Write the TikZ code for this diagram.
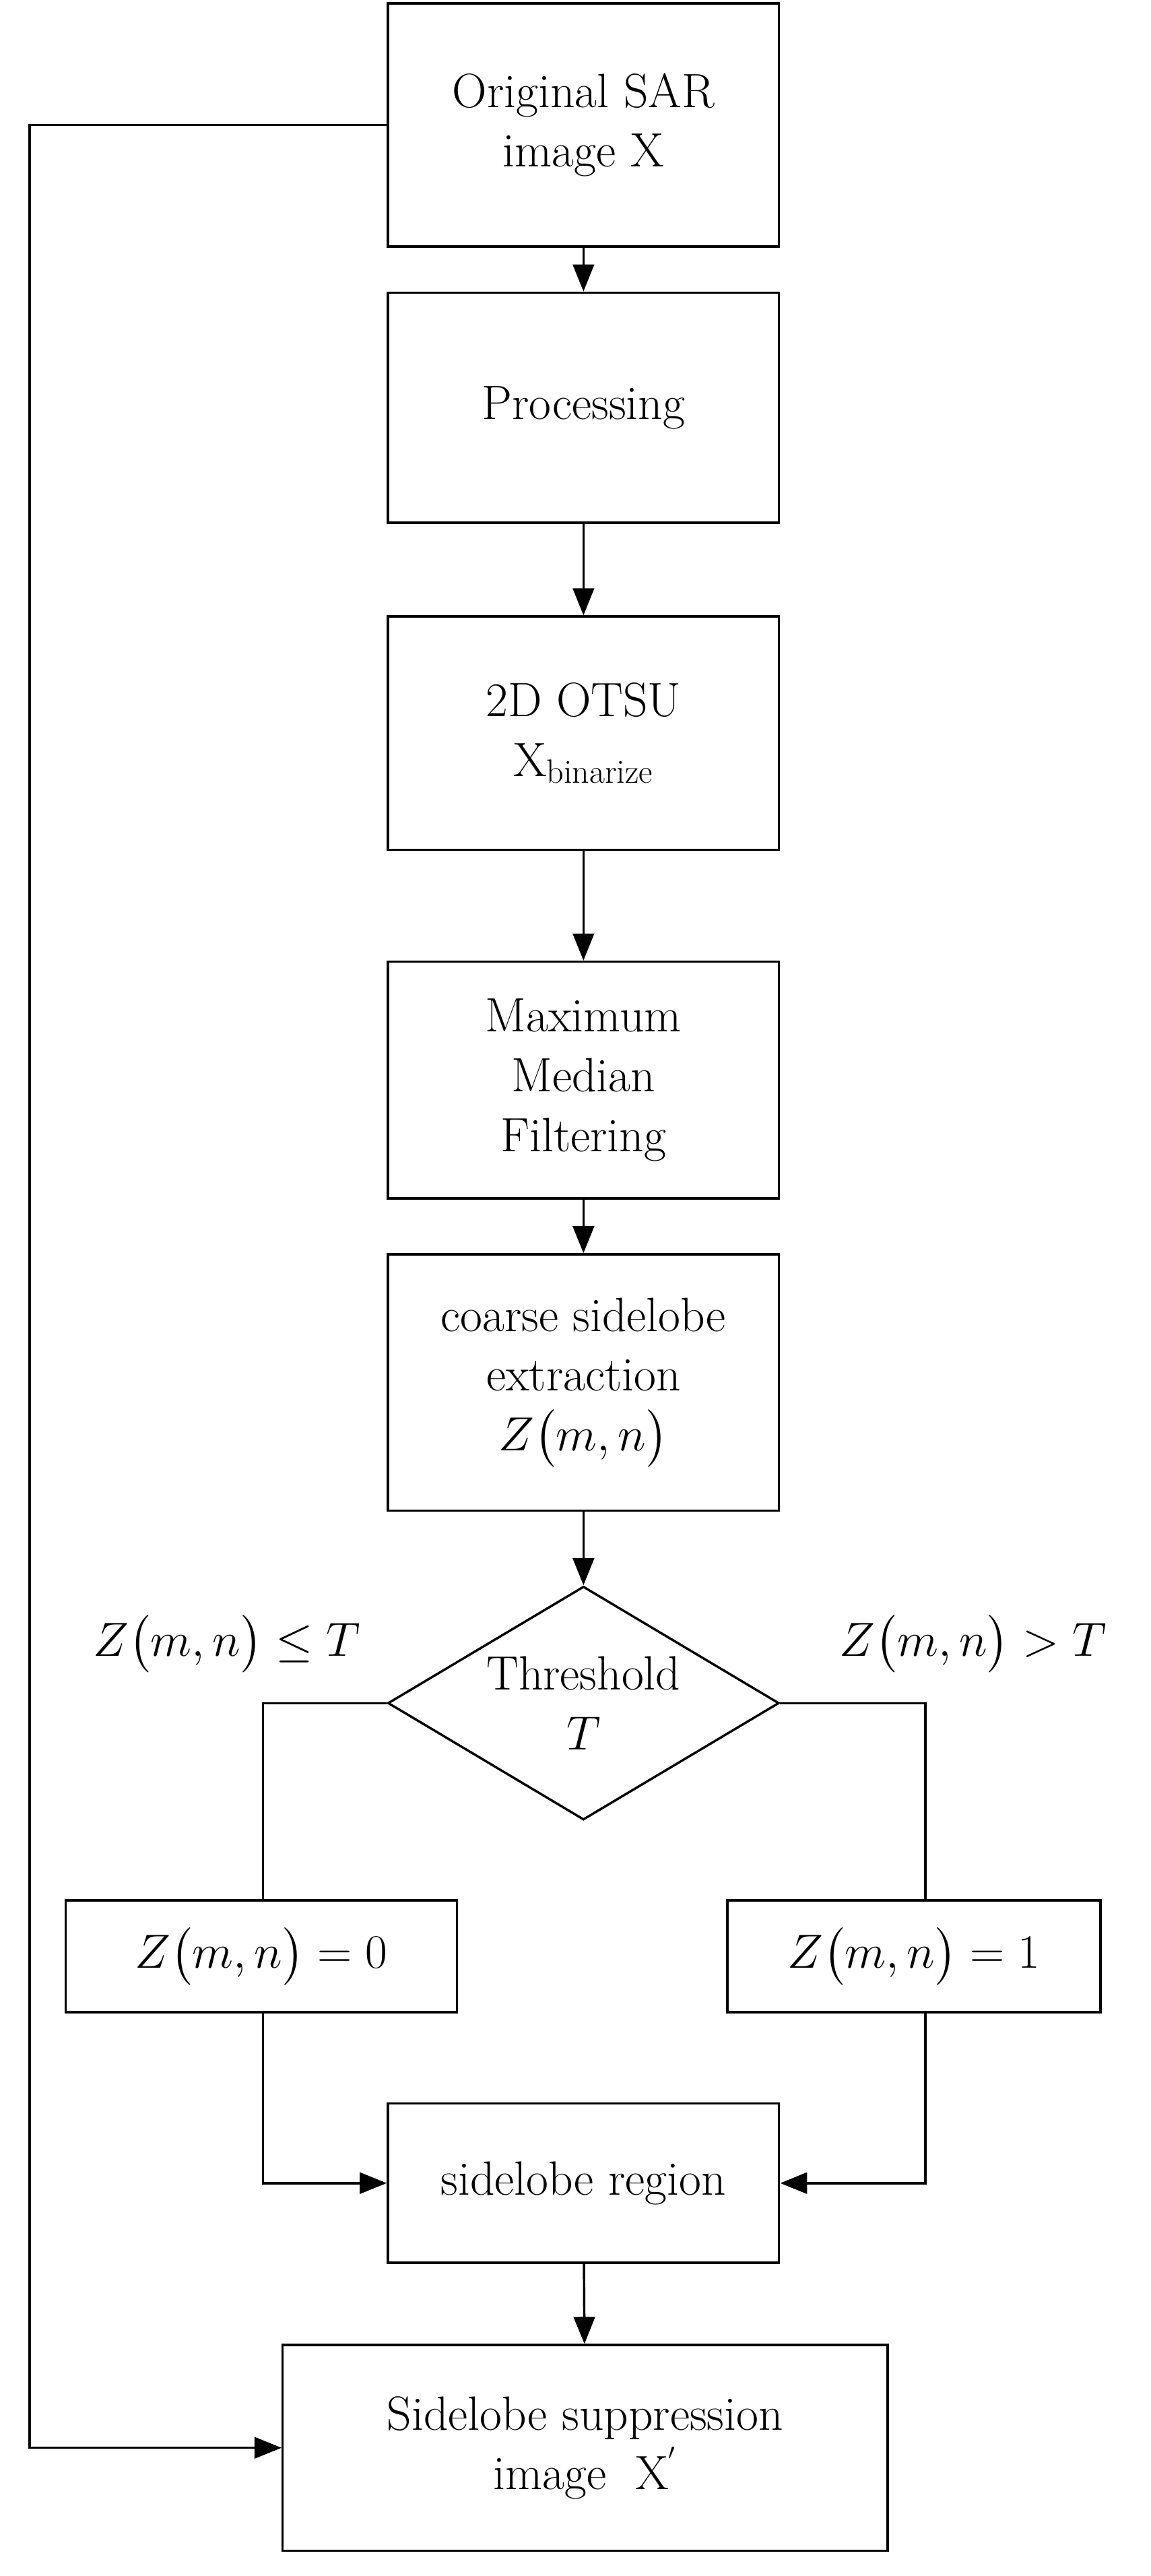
\documentclass[tikz,border=0pt]{standalone}
\usepackage{amsmath}
\usetikzlibrary{shapes.geometric,arrows.meta}
\begin{document}
\begin{tikzpicture}[x=0.03cm,y=-0.03cm,
  box/.style={draw,line width=1.2pt,align=center,font=\fontsize{25}{31}\selectfont,inner sep=0pt},
  big/.style={font=\fontsize{40}{46}\selectfont},
  arr/.style={line width=1.2pt,-{Triangle[length=14pt,width=11pt]}},
  ln/.style={line width=1.2pt}]
\useasboundingbox (0,0) rectangle (700,1567);
\node[box,minimum width=7.14cm,minimum height=4.44cm] (sar) at (355,76) {Original SAR\\image X};
\node[box,minimum width=7.14cm,minimum height=4.2cm] (proc) at (355,248) {Processing};
\node[box,minimum width=7.14cm,minimum height=4.26cm] (otsu) at (355,446) {2D OTSU\\X$_{\text{binarize}}$};
\node[box,minimum width=7.14cm,minimum height=4.32cm] (maxf) at (355,657) {Maximum\\Median\\Filtering};
\node[box,minimum width=7.14cm,minimum height=4.68cm] (coarse) at (355,841) {coarse sidelobe\\extraction\\$Z\big(m,n\big)$};
\node[box,diamond,aspect=1.68,minimum width=7.14cm,minimum height=4.26cm] (thr) at (355,1036) {Threshold\\$T$};
\node[box,big,minimum width=7.14cm,minimum height=2.04cm] (z0) at (159,1190) {$Z\big(m,n\big)=0$};
\node[box,big,minimum width=6.81cm,minimum height=2.04cm] (z1) at (556,1190) {$Z\big(m,n\big)=1$};
\node[box,minimum width=7.14cm,minimum height=2.91cm] (reg) at (355,1328) {sidelobe region};
\node[box,minimum width=11.04cm,minimum height=3.75cm] (sup) at (356,1489) {Sidelobe suppression\\image \ X$^{'}$};
\node[big] (lab0) at (138,1000) {$Z\big(m,n\big)\leq T$};
\node[big] (lab1) at (592,1000) {$Z\big(m,n\big)>T$};
\draw[arr] (sar) -- (proc);
\draw[arr] (proc) -- (otsu);
\draw[arr] (otsu) -- (maxf);
\draw[arr] (maxf) -- (coarse);
\draw[arr] (coarse) -- (thr);
\draw[ln] (thr.west) -| (z0.north -| 160,0);
\draw[ln] (thr.east) -| (z1.north -| 563,0);
\draw[arr] (z0.south -| 160,0) |- (reg.west);
\draw[arr] (z1.south -| 563,0) |- (reg.east);
\draw[arr] (reg) -- (sup);
\draw[arr] (sar.west) -- (18,76) |- (sup.west);
\end{tikzpicture}
\end{document}
